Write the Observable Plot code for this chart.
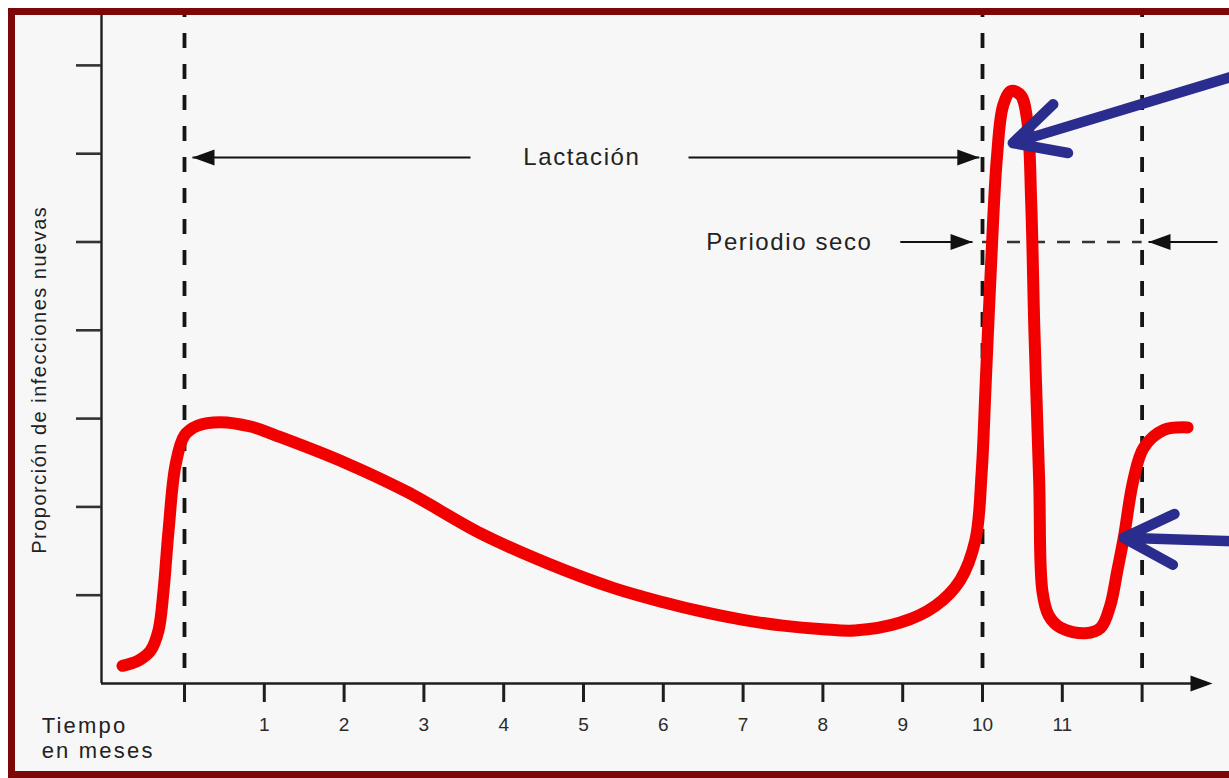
<!DOCTYPE html>
<html>
<head>
<meta charset="utf-8">
<script src="https://cdn.jsdelivr.net/npm/d3@7"></script>
<script src="https://cdn.jsdelivr.net/npm/@observablehq/plot@0.6"></script>
<style>
  html, body { margin: 0; padding: 0; background: #ffffff; overflow: hidden; width: 1229px; height: 778px; }
  #frame { position: absolute; left: 8px; top: 8px; width: 1260px; height: 770px; box-sizing: border-box;
           border: 7px solid #7d0606; background: #f7f7f7; }
  #chart { position: absolute; left: 0; top: 0; }
  #chart g[aria-label="text"] { letter-spacing: 1.6px; }
  #chart g[aria-label="text"][font-size="22"] { letter-spacing: 2.2px; }
  #chart g[aria-label="text"][font-size="20"] { letter-spacing: 1.5px; }
</style>
</head>
<body>
<div id="frame"></div>
<div id="chart"></div>
<script>
// ---- data (months since calving, relative proportion of new infections) ----
const curveMonths = [-0.777, -0.576, -0.426, -0.326, -0.263, -0.20, -0.113, 0, 0.163, 0.45, 0.827, 1.203, 2.04, 2.79, 3.71, 4.55, 5.38, 6.0, 6.5, 7.0, 7.5, 8.0, 8.4, 8.97, 9.41, 9.72, 9.91, 9.99, 10.04, 10.11, 10.18, 10.26, 10.36, 10.48, 10.56, 10.61, 10.65, 10.71, 10.75, 10.83, 10.98, 11.29, 11.48, 11.60, 11.69, 11.77, 11.89, 12.02, 12.27, 12.57];
const curveValues = [0.20, 0.26, 0.37, 0.60, 1.05, 1.73, 2.47, 2.81, 2.92, 2.96, 2.91, 2.79, 2.49, 2.17, 1.70, 1.36, 1.08, 0.92, 0.81, 0.72, 0.655, 0.615, 0.60, 0.69, 0.88, 1.17, 1.62, 2.40, 3.40, 4.80, 5.95, 6.55, 6.71, 6.66, 6.38, 5.45, 4.00, 2.30, 1.05, 0.77, 0.63, 0.57, 0.63, 0.88, 1.28, 1.65, 2.30, 2.67, 2.87, 2.90];

const xTicks = [0, 1, 2, 3, 4, 5, 6, 7, 8, 9, 10, 11, 12];
const xTickLabels = ["", "1", "2", "3", "4", "5", "6", "7", "8", "9", "10", "11", ""];
const yTicks = [1, 2, 3, 4, 5, 6, 7];
const phaseBoundaries = [0, 10, 12];          // calving, drying off, next calving
const dryPeriodLevel = 5;

const xDomain = [-1.04, 12.857];
const yDomain = [0, 7.565];

const lactationLevel = 5.957;
const periodLabels = [
  {label: "Lactación", month: 4.98, level: lactationLevel},
  {label: "Periodio seco", month: 7.58, level: dryPeriodLevel}
];
const blackArrowLines = [
  {m1: 3.584, v1: lactationLevel, m2: 0.10, v2: lactationLevel},
  {m1: 6.316, v1: lactationLevel, m2: 9.96, v2: lactationLevel},
  {m1: 8.97, v1: dryPeriodLevel, m2: 9.875, v2: dryPeriodLevel},
  {m1: 12.945, v1: dryPeriodLevel, m2: 12.08, v2: dryPeriodLevel}
];
const blackArrowHeads = [
  {month: 0.10, level: lactationLevel, dir: 180},
  {month: 9.96, level: lactationLevel, dir: 0},
  {month: 9.875, level: dryPeriodLevel, dir: 0},
  {month: 12.08, level: dryPeriodLevel, dir: 180},
  {month: 12.882, level: 0, dir: 0}
];
const blueArrows = [
  {m1: 13.85, v1: 7.07, m2: 10.38, v2: 6.12},
  {m1: 13.9, v1: 1.59, m2: 11.77, v2: 1.65}
];
const axisTitleX = {text: "Tiempo\nen meses", month: -1.79, level: -0.37};
const axisTitleY = {text: "Proporción de infecciones nuevas", month: -1.81, level: 3.44};

// ---- build ----
const curve = curveMonths.map((m, i) => ({month: m, value: curveValues[i]}));
const tickLabel = new Map(xTicks.map((t, i) => [t, xTickLabels[i]]));
const headSymbol = {
  draw(ctx) { ctx.moveTo(0, 0); ctx.lineTo(-22, -8); ctx.lineTo(-22, 8); ctx.closePath(); }
};
const font = "'Liberation Sans', Arial, Helvetica, sans-serif";

const chart = Plot.plot({
  width: 1229,
  height: 778,
  marginLeft: 101,
  marginRight: 19,
  marginTop: 15,
  marginBottom: 95,
  style: {background: "transparent", fontFamily: font, overflow: "visible"},
  x: {domain: xDomain, axis: null},
  y: {domain: yDomain, axis: null},
  marks: [
    // axes lines
    Plot.ruleY([0], {x1: xDomain[0], x2: 12.7, stroke: "#1e1e1e", strokeWidth: 2.6}),
    Plot.ruleX([xDomain[0]], {y1: 0, y2: yDomain[1], stroke: "#1e1e1e", strokeWidth: 2.4}),
    Plot.axisY({ticks: yTicks, tickSize: 25, tickFormat: () => "", stroke: "#333", strokeWidth: 2.6}),
    Plot.axisX({ticks: xTicks, tickSize: 19, tickPadding: 15, tickFormat: d => tickLabel.get(d),
                fontSize: 19, fill: "#2a2a2a", stroke: "#1e1e1e", strokeWidth: 3}),
    // phase boundaries
    Plot.ruleX(phaseBoundaries, {y1: yDomain[1], y2: 0, stroke: "#151515", strokeWidth: 3.8,
                strokeDasharray: "15,16", strokeDashoffset: 13}),
    Plot.ruleY([dryPeriodLevel], {x1: 10, x2: 12, stroke: "#333", strokeWidth: 2.4, strokeDasharray: "13,12"}),
    // period arrows
    Plot.link(blackArrowLines, {x1: "m1", y1: "v1", x2: "m2", y2: "v2", stroke: "#111", strokeWidth: 2.2}),
    Plot.dot(blackArrowHeads, {x: "month", y: "level", rotate: "dir", symbol: headSymbol, fill: "#111", stroke: "none"}),
    Plot.text(periodLabels, {x: "month", y: "level", text: "label", fontSize: 24, fill: "#222"}),
    // axis titles
    Plot.text([axisTitleX], {x: "month", y: "level", text: "text", textAnchor: "start", lineAnchor: "top",
                fontSize: 22, lineHeight: 1.1, fill: "#222"}),
    Plot.text([axisTitleY], {x: "month", y: "level", text: "text", rotate: -90, fontSize: 20, fill: "#222"}),
    // curve
    Plot.line(curve, {x: "month", y: "value", curve: "catmull-rom", stroke: "#f20000", strokeWidth: 12}),
    // blue arrows
    Plot.arrow(blueArrows, {x1: "m1", y1: "v1", x2: "m2", y2: "v2", stroke: "#2b2d8e", strokeWidth: 10.5,
                headLength: 8, headAngle: 54})
  ]
});
document.getElementById("chart").appendChild(chart);
</script>
</body>
</html>
